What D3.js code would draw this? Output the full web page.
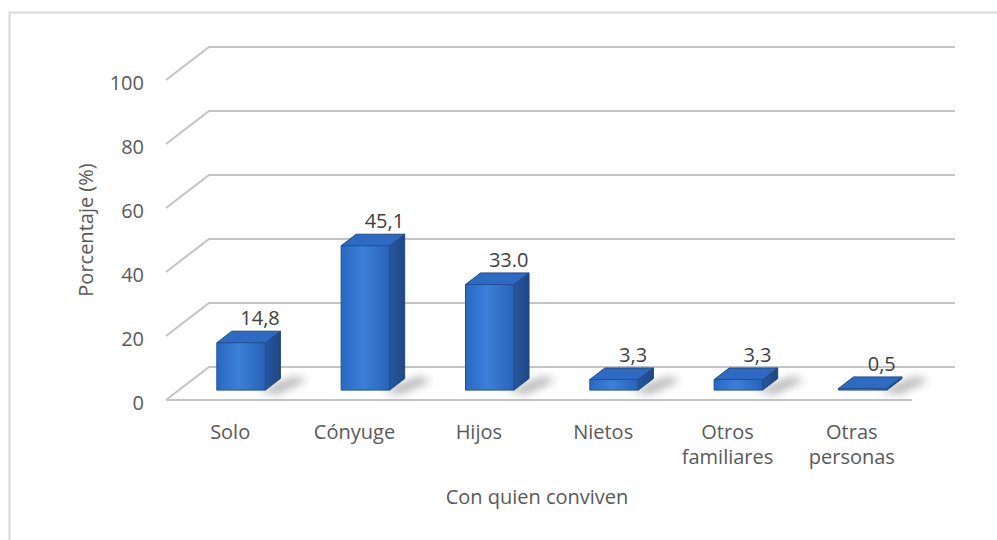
<!DOCTYPE html>
<html lang="en">
<head>
    <meta charset="utf-8">
    <title>Con quien conviven</title>
    <script src="https://d3js.org/d3.v7.min.js"></script>
    <style>
        body{
            margin: 0;
            background: #fff;
        }
        text{
            font-family: 'Open Sans', Lato, sans-serif;
            fill: #595959;
        }
        text.tick{
            font-size: 20px;
            text-anchor: end;
        }
        text.cat{
            font-size: 20px;
            text-anchor: middle;
        }
        text.value{
            font-size: 20px;
            text-anchor: middle;
            fill: #404040;
        }
        text.title{
            font-size: 20px;
            text-anchor: middle;
        }
        .grid{
            fill: none;
            stroke: #c4c4c4;
            stroke-width: 2;
        }
    </style>
</head>
<body>
    <div id="chart"></div>
    <script>

    // data
    var categories = ["Solo", "Cónyuge", "Hijos", "Nietos", "Otros familiares", "Otras personas"]
    var values = [14.8, 45.1, 33.0, 3.3, 3.3, 0.5]
    var valueLabels = ["14,8", "45,1", "33.0", "3,3", "3,3", "0,5"]
    var yTicks = [0, 20, 40, 60, 80, 100]

    var width = 997
    var height = 540

    // depth of the 3D box (offset of the back wall)
    var DX = 43, DY = -33
    var zFront = 0.3, zBack = 0.65

    var svg = d3.select("#chart")
      .append("svg")
        .attr("width", width)
        .attr("height", height)

    var defs = svg.append("defs")

    var grad = defs.append("linearGradient")
        .attr("id", "front")
        .attr("x1", "0").attr("x2", "1").attr("y1", "0").attr("y2", "0")
    grad.append("stop").attr("offset", "0%").attr("stop-color", "#2a68c2")
    grad.append("stop").attr("offset", "45%").attr("stop-color", "#3b80d8")
    grad.append("stop").attr("offset", "100%").attr("stop-color", "#2862b8")

    var gradSide = defs.append("linearGradient")
        .attr("id", "side")
        .attr("x1", "0").attr("x2", "1").attr("y1", "0").attr("y2", "0")
    gradSide.append("stop").attr("offset", "0%").attr("stop-color", "#27579f")
    gradSide.append("stop").attr("offset", "100%").attr("stop-color", "#1f4784")

    defs.append("filter")
        .attr("id", "blur")
        .attr("x", "-50%").attr("y", "-50%").attr("width", "200%").attr("height", "200%")
      .append("feGaussianBlur")
        .attr("stdDeviation", 4)

    // outer frame
    svg.append("rect")
        .attr("x", 9.5).attr("y", 12.5)
        .attr("width", 1000).attr("height", 600)
        .attr("fill", "none")
        .attr("stroke", "#d9d9d9")
        .attr("stroke-width", 2)

    var x = d3.scaleBand()
        .domain(categories)
        .range([166, 912])
        .paddingInner(0.61)
        .paddingOuter(0.305)

    var y = d3.scaleLinear()
        .domain([0, 100])
        .range([400, 80])

    // point on the plot at depth z (0 = front, 1 = back wall)
    function proj(px, py, z){
        return [px + DX * z, py + DY * z]
    }

    var x0 = x.range()[0], x1 = x.range()[1]

    // gridlines on the side and back walls
    var grid = svg.append("g")
    yTicks.forEach(function(t){
        var a = proj(x0, y(t), 0), b = proj(x0, y(t), 1), c = proj(x1, y(t), 1)
        grid.append("path")
            .attr("class", "grid")
            .attr("d", d3.line()([a, b, c]))
    })
    // floor front edge
    grid.append("path")
        .attr("class", "grid")
        .attr("d", d3.line()([[x0, y(0)], [x1, y(0)]]))

    // tick labels
    svg.append("g")
      .selectAll("text")
      .data(yTicks)
      .join("text")
        .attr("class", "tick")
        .attr("x", 144)
        .attr("y", d => y(d) + 3)
        .attr("dy", "0.35em")
        .text(d => d)

    // bars
    var bars = svg.append("g")
      .selectAll("g")
      .data(categories)
      .join("g")

    function barGeom(d, i){
        var xl = x(d), xr = x(d) + x.bandwidth()
        var top = y(values[i]), base = y(0)
        return {
            fl: proj(xl, base, zFront), fr: proj(xr, base, zFront),
            tl: proj(xl, top, zFront), tr: proj(xr, top, zFront),
            btl: proj(xl, top, zBack), btr: proj(xr, top, zBack),
            bbr: proj(xr, base, zBack)
        }
    }

    // shadow on the floor
    bars.append("path")
        .attr("d", function(d, i){
            var g = barGeom(d, i)
            var w = x.bandwidth()
            return d3.line()([
                [g.fr[0] - 8, g.fr[1] + 1],
                [g.bbr[0] + w * 0.3, g.bbr[1] - 2],
                [g.bbr[0] + w * 0.55, g.bbr[1] + 2],
                [g.fr[0] + w * 0.25, g.fr[1] + 4]
            ]) + "Z"
        })
        .attr("fill", "#7a7a7a")
        .attr("opacity", 0.55)
        .attr("filter", "url(#blur)")

    // right side
    bars.append("path")
        .attr("d", function(d, i){
            var g = barGeom(d, i)
            return d3.line()([g.fr, g.tr, g.btr, g.bbr]) + "Z"
        })
        .attr("fill", "url(#side)")
        .attr("stroke", "#1d4580")
        .attr("stroke-width", 1)
        .attr("stroke-linejoin", "round")

    // top
    bars.append("path")
        .attr("d", function(d, i){
            var g = barGeom(d, i)
            return d3.line()([g.tl, g.tr, g.btr, g.btl]) + "Z"
        })
        .attr("fill", "#2f6ac2")
        .attr("stroke", "#1f4a88")
        .attr("stroke-width", 1)
        .attr("stroke-linejoin", "round")

    // front
    bars.append("path")
        .attr("d", function(d, i){
            var g = barGeom(d, i)
            return d3.line()([g.fl, g.tl, g.tr, g.fr]) + "Z"
        })
        .attr("fill", "url(#front)")
        .attr("stroke", "#224f94")
        .attr("stroke-width", 1)
        .attr("stroke-linejoin", "round")

    // value labels
    bars.append("text")
        .attr("class", "value")
        .attr("x", (d, i) => x(d) + x.bandwidth() / 2 + DX * zFront + 19)
        .attr("y", (d, i) => y(values[i]) + DY * zFront - 18)
        .text((d, i) => valueLabels[i])

    // category labels (wrapped on two lines)
    svg.append("g")
      .selectAll("text")
      .data(categories)
      .join("text")
        .attr("class", "cat")
        .attr("x", d => x(d) + x.bandwidth() / 2 + 2)
        .attr("y", 439)
        .each(function(d){
            var words = d.split(" ")
            var t = d3.select(this)
            words.forEach(function(w, k){
                t.append("tspan")
                    .attr("x", t.attr("x"))
                    .attr("dy", k === 0 ? 0 : 25)
                    .text(w)
            })
        })

    // axis titles
    svg.append("text")
        .attr("class", "title")
        .attr("x", 537)
        .attr("y", 504)
        .text("Con quien conviven")

    svg.append("text")
        .attr("class", "title")
        .attr("transform", "translate(93,230) rotate(-90)")
        .text("Porcentaje (%)")

    </script>
</body>
</html>
